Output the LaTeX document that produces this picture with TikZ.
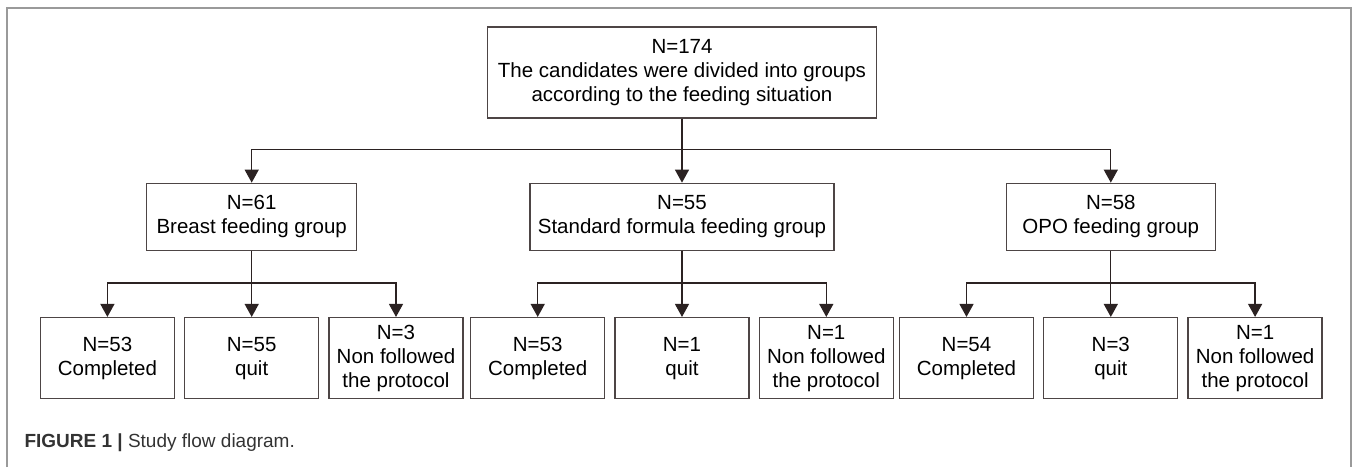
\documentclass[tikz,border=0pt]{standalone}
\usepackage{fontspec}
\setmainfont{Liberation Sans}
\usetikzlibrary{positioning}
\usetikzlibrary{arrows.meta}
\definecolor{boxgray}{HTML}{4D4545}
\definecolor{linegray}{HTML}{2B2222}
\definecolor{framegray}{HTML}{9A9A9A}
\definecolor{captiongray}{HTML}{333333}

\begin{document}
\begin{tikzpicture}[x=1pt,y=1pt]
		\tikzset{box/.style = {draw=boxgray, line width=1.3pt, align=center, inner sep=0pt, font=\fontsize{20.5}{24}\selectfont},
			leaf/.style = {box, minimum width=134pt, minimum height=81pt},
			edge/.style = {-{Triangle[length=13pt,width=14pt]}, line width=1.3pt, draw=linegray}}
		\useasboundingbox (0,0) rectangle (1357,467);
		\draw[framegray, line width=1.5pt] (7,0) -- (7,459) -- (1351,459) -- (1351,0);
		\node[box, minimum width=389pt, minimum height=91pt] (A) at (682,394.5) {N=174\\The candidates were divided into groups\\according to the feeding situation};
		\node[box, minimum width=304pt, minimum height=67pt, below=64pt of A] (SF) {N=55\\Standard formula feeding group};
		\node[box, minimum width=210pt, minimum height=67pt, left=172pt of SF] (BF) {N=61\\Breast feeding group};
		\node[box, minimum width=209pt, minimum height=67pt, right=171pt of SF] (OPO) {N=58\\OPO feeding group};
		\node[leaf, below=66pt of BF] (BFq) {N=55\\quit};
		\node[leaf, left=9pt of BFq] (BFc) {N=53\\Completed};
		\node[leaf, right=9pt of BFq] (BFn) {N=3\\Non followed\\the protocol};
		\node[leaf, below=66pt of SF] (SFq) {N=1\\quit};
		\node[leaf, left=9pt of SFq] (SFc) {N=53\\Completed};
		\node[leaf, right=9pt of SFq] (SFn) {N=1\\Non followed\\the protocol};
		\node[leaf, below=66pt of OPO] (OPq) {N=3\\quit};
		\node[leaf, left=9pt of OPq] (OPc) {N=54\\Completed};
		\node[leaf, right=9pt of OPq] (OPn) {N=1\\Non followed\\the protocol};
		\node[anchor=west, text=captiongray, font=\fontsize{19}{22}\selectfont] (cap) at (21,24) {\textbf{FIGURE 1 |} Study flow diagram.};
		\draw[edge] (A) -- (SF);
		\draw[edge] (A.south) -- ++(0,-31) -| (BF);
		\draw[edge] (A.south) -- ++(0,-31) -| (OPO);
		\draw[edge] (BF) -- (BFq);
		\draw[edge] (BF.south) -- ++(0,-32) -| (BFc);
		\draw[edge] (BF.south) -- ++(0,-32) -| (BFn);
		\draw[edge] (SF) -- (SFq);
		\draw[edge] (SF.south) -- ++(0,-32) -| (SFc);
		\draw[edge] (SF.south) -- ++(0,-32) -| (SFn);
		\draw[edge] (OPO) -- (OPq);
		\draw[edge] (OPO.south) -- ++(0,-32) -| (OPc);
		\draw[edge] (OPO.south) -- ++(0,-32) -| (OPn);
	\end{tikzpicture}
\end{document}
